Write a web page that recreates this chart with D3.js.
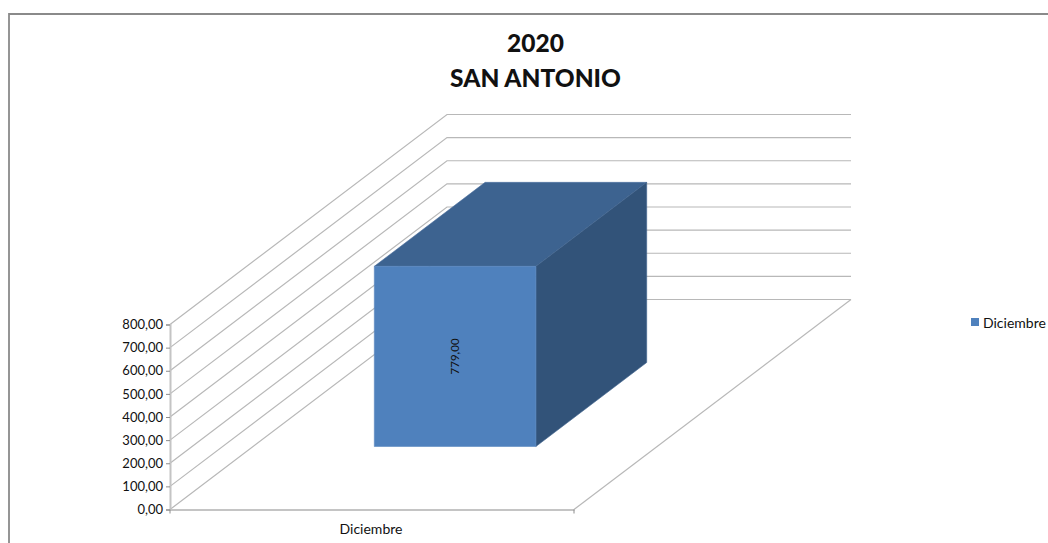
<!DOCTYPE html>
<html>
<head>
<meta charset="utf-8">
<script src="https://cdn.jsdelivr.net/npm/d3@7"></script>
<style>
  html, body { margin: 0; padding: 0; background: #fff; }
  svg { display: block; }
  text { font-family: Lato, "Open Sans", sans-serif; fill: #111; }
</style>
</head>
<body>
<div id="app"></div>
<script>
const categories = ['Diciembre'];
const values = [779];
const yTicks = [0, 100, 200, 300, 400, 500, 600, 700, 800];
const titleLines = ['2020', 'SAN ANTONIO'];

const width = 1048;
const height = 543;

const svg = d3.select('#app')
              .append('svg')
              .attr('width', width)
              .attr('height', height);

// marco del grafico
svg.append('path')
    .attr('d', `M9,${height} V14 H${width}`)
    .attr('fill', 'none')
    .attr('stroke', '#8a8a8a')
    .attr('stroke-width', 1.8);

const xScale = d3.scaleBand()
                  .domain(categories)
                  .range([170, 574])
                  .paddingInner(0)
                  .paddingOuter(0.75);

const yScale = d3.scaleLinear()
                  .domain([0, 800])
                  .range([509.5, 324.5]);

// profundidad 3D: 0 = frente, 1 = pared del fondo
const depthX = d3.scaleLinear().domain([0, 1]).range([0, 277]);
const depthY = d3.scaleLinear().domain([0, 1]).range([0, -210]);

const project = (x, y, z) => [x + depthX(z), y + depthY(z)];
const poly = pts => d3.line()(pts) + 'Z';

const gridColor = '#b8b8b8';
const [xLeft, xRight] = xScale.range();

/* lineas de division */
svg.append('g')
    .selectAll('path')
    .data(yTicks)
    .enter()
    .append('path')
    .attr('d', d => d3.line()([project(xLeft, yScale(d), 0), project(xLeft, yScale(d), 1), project(xRight, yScale(d), 1)]))
    .attr('fill', 'none')
    .attr('stroke', gridColor)
    .attr('stroke-width', 1.2);

// lado derecho del piso
svg.append('path')
    .attr('d', d3.line()([project(xRight, yScale(0), 0), project(xRight, yScale(0), 1)]))
    .attr('stroke', gridColor)
    .attr('stroke-width', 1.2);

/* eje y */
const yAxis = svg.append('g')
    .attr('transform', `translate(${xLeft}, 0)`)
    .call(d3.axisLeft(yScale)
      .tickValues(yTicks)
      .tickSize(4)
      .tickPadding(3)
      .tickFormat(d => d3.format('.2f')(d).replace('.', ',')));
yAxis.select('.domain').attr('stroke', '#c4c4c4').attr('stroke-width', 2);
yAxis.selectAll('.tick line').attr('stroke', '#8c8c8c');
yAxis.selectAll('.tick text').style('font-size', '13px').attr('fill', '#111');

/* eje x */
const xAxis = svg.append('g')
    .attr('transform', `translate(0, ${yScale(0)})`)
    .call(d3.axisBottom(xScale).tickSize(0).tickPadding(16));
xAxis.select('.domain').attr('stroke', '#c4c4c4').attr('stroke-width', 2);
xAxis.selectAll('.tick text')
    .style('font-size', '14px')
    .attr('fill', '#111')
    .attr('dx', -1)
    .attr('dy', '0.6em');

svg.append('g')
    .selectAll('line')
    .data([xLeft, xRight])
    .enter()
    .append('line')
    .attr('x1', d => d)
    .attr('x2', d => d)
    .attr('y1', yScale(0))
    .attr('y2', yScale(0) + 4)
    .attr('stroke', '#8c8c8c');

/* barra 3D */
const zFront = 0.3;
const zBack = 0.7;
const bars = svg.append('g')
  .selectAll('g')
  .data(categories.map((c, i) => ({ name: c, value: values[i] })))
  .enter()
  .append('g');

bars.each(function (d) {
  const g = d3.select(this);
  const x0 = xScale(d.name);
  const x1 = x0 + xScale.bandwidth();
  const yb = yScale(0);
  const yt = yScale(d.value);
  const edge = 0.6;

  g.append('path') // cara superior
    .attr('d', poly([project(x0, yt, zFront), project(x0, yt, zBack), project(x1, yt, zBack), project(x1, yt, zFront)]))
    .attr('fill', '#3d6390')
    .attr('stroke', '#4d70a0')
    .attr('stroke-width', edge);
  g.append('path') // cara lateral
    .attr('d', poly([project(x1, yt, zFront), project(x1, yt, zBack), project(x1, yb, zBack), project(x1, yb, zFront)]))
    .attr('fill', '#325379')
    .attr('stroke', '#41648f')
    .attr('stroke-width', edge);
  g.append('path') // cara frontal
    .attr('d', poly([project(x0, yt, zFront), project(x1, yt, zFront), project(x1, yb, zFront), project(x0, yb, zFront)]))
    .attr('fill', '#4f81bd')
    .attr('stroke', '#5a88bf')
    .attr('stroke-width', edge);

  const [lx, ly] = project((x0 + x1) / 2, (yt + yb) / 2, zFront);
  g.append('text') // etiqueta de datos
    .attr('transform', `translate(${lx + 4}, ${ly}) rotate(-90)`)
    .attr('text-anchor', 'middle')
    .style('font-size', '11.5px')
    .text(d3.format('.2f')(d.value).replace('.', ','));
});

/* titulo */
svg.append('g')
  .selectAll('text')
  .data(titleLines)
  .enter()
  .append('text')
  .attr('x', 535.5)
  .attr('y', (d, i) => 52 + i * 35)
  .attr('text-anchor', 'middle')
  .style('font-size', '24.5px')
  .style('font-weight', '900')
  .text(d => d);

/* leyenda */
const legend = svg.append('g').attr('transform', 'translate(971, 318)');
legend.append('rect')
    .attr('width', 8)
    .attr('height', 8)
    .attr('fill', '#4f81bd');
legend.append('text')
    .attr('x', 12)
    .attr('y', 10)
    .style('font-size', '14px')
    .text(categories[0]);
</script>
</body>
</html>
